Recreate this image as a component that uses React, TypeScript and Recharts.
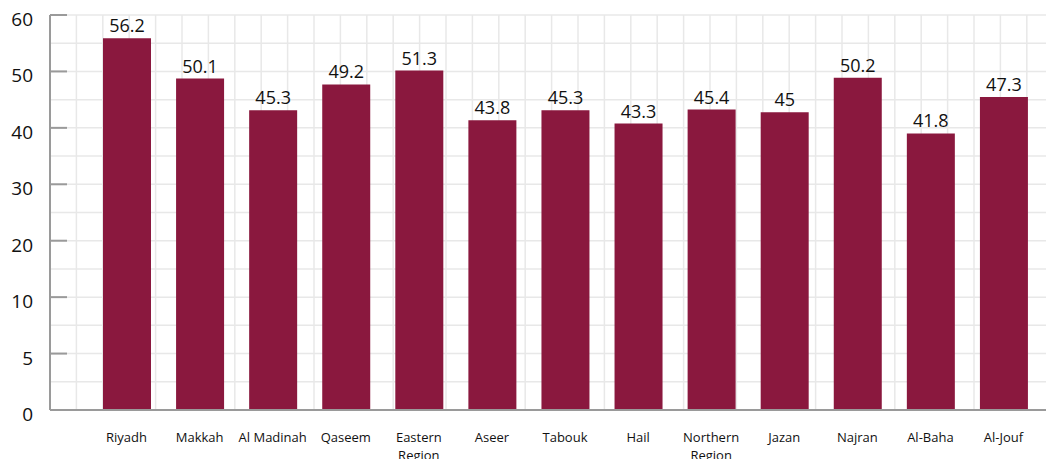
import { BarChart, Bar, XAxis, YAxis, CartesianGrid, LabelList, Text } from "recharts";

// ─── Data ─────────────────────────────────────────────────────────────────────
const regions = [
  "Riyadh", "Makkah", "Al Madinah", "Qaseem", "Eastern Region", "Aseer", "Tabouk",
  "Hail", "Northern Region", "Jazan", "Najran", "Al-Baha", "Al-Jouf",
];
const values = [56.2, 50.1, 45.3, 49.2, 51.3, 43.8, 45.3, 43.3, 45.4, 45, 50.2, 41.8, 47.3];
// the source axis labels are spaced evenly even though they are not linear
const yTickLabels = ["0", "5", "10", "20", "30", "40", "50", "60"];
const yMax = 59.7;

const data = regions.map((region, i) => ({ region, value: values[i] }));
const yTicks = yTickLabels.map((_, i) => (i * yMax) / (yTickLabels.length - 1));

const FONT = "'Open Sans', sans-serif";
const BAR = "#8A183E";
const AXIS = "#9A9A9A";

function YTick({ x, y, index }: any) {
  return (
    <g>
      <line x1={x} x2={x + 17} y1={y} y2={y} stroke={AXIS} strokeWidth={2} />
      <text x={x - 17} y={y + 4} textAnchor="end" dominantBaseline="central" fontSize={19} fill="#111" fontFamily={FONT}>
        {yTickLabels[index]}
      </text>
    </g>
  );
}

function XTick({ x, y, payload }: any) {
  return (
    <Text x={x} y={y + 15} width={78} textAnchor="middle" verticalAnchor="start" fontSize={13} fill="#111" fontFamily={FONT} lineHeight={18}>
      {payload.value}
    </Text>
  );
}

export default function App() {
  return (
    <div style={{ position: "fixed", left: 0, top: 0, width: 1046, height: 459, background: "#fff" }}>
      <BarChart width={1046} height={459} data={data} margin={{ top: 15, right: 0, left: 0, bottom: 0 }}>
        <CartesianGrid
          stroke="#E8E8E8"
          strokeWidth={1.5}
          horizontalCoordinatesGenerator={({ offset }: any) =>
            Array.from({ length: 15 }, (_, i) => offset.top + (i * offset.height) / 14)
          }
          verticalCoordinatesGenerator={({ offset }: any) => {
            const pts: number[] = [];
            for (let p = offset.left; p <= offset.left + offset.width; p += 26.4) pts.push(p);
            return pts;
          }}
        />
        <XAxis
          dataKey="region"
          height={49}
          padding={{ left: 40, right: 6 }}
          interval={0}
          tickLine={false}
          axisLine={{ stroke: AXIS, strokeWidth: 2 }}
          tick={<XTick />}
        />
        <YAxis
          width={50}
          type="number"
          domain={[0, yMax]}
          ticks={yTicks}
          interval={0}
          tickSize={0}
          tickMargin={0}
          tickLine={false}
          axisLine={{ stroke: AXIS, strokeWidth: 2 }}
          tick={<YTick />}
        />
        <Bar dataKey="value" fill={BAR} barSize={48} isAnimationActive={false}>
          <LabelList dataKey="value" position="top" offset={6} fontSize={18} fill="#111" fontFamily={FONT} />
        </Bar>
      </BarChart>
    </div>
  );
}
